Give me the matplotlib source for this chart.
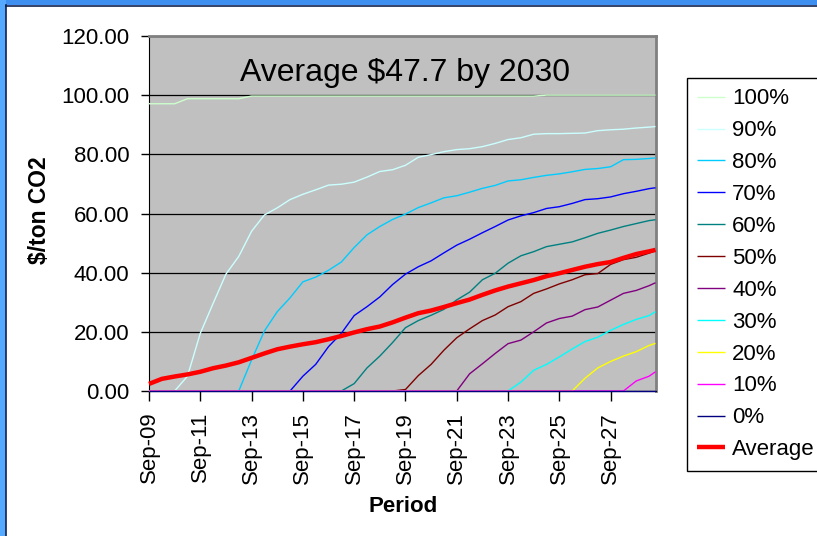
import matplotlib
matplotlib.use("Agg")
import matplotlib.pyplot as plt
from matplotlib.patches import Rectangle
from matplotlib.lines import Line2D

plt.rcParams['font.family'] = ['Liberation Sans', 'DejaVu Sans']

# quarterly periods (0 = Sep-09), sampled every half year, last = Jun-29
periods = list(range(0, 80, 2)) + [79]
tick_pos = list(range(0, 80, 8))
tick_labels = ['Sep-09', 'Sep-11', 'Sep-13', 'Sep-15', 'Sep-17',
               'Sep-19', 'Sep-21', 'Sep-23', 'Sep-25', 'Sep-27']

p100 = [97.1, 97.1, 97.1, 98.8, 98.8, 98.8, 98.8, 98.8] + [99.7] * 23 + [100.0] * 10
p90 = [0, 0, 0, 5.0, 19.5, 29.6, 39.5, 45.5,
       54.0, 59.5, 61.9, 64.7, 66.5, 68.0, 69.6, 69.9,
       70.6, 72.3, 74.2, 74.8, 76.3, 79.0, 79.9, 80.9,
       81.6, 81.9, 82.6, 83.7, 85.0, 85.6, 86.8, 87.0,
       87.0, 87.1, 87.2, 88.0, 88.3, 88.5, 88.9, 89.2, 89.4]
p80 = [0] * 8 + [10.5, 20.3, 26.8, 31.5, 36.9, 38.5, 40.8, 43.6,
                 48.5, 52.8, 55.6, 58.0, 59.8, 62.0, 63.6, 65.3,
                 66.0, 67.2, 68.5, 69.5, 71.0, 71.4, 72.2, 72.9,
                 73.4, 74.1, 74.9, 75.2, 75.8, 78.2, 78.3, 78.6, 78.8]
p70 = [0] * 12 + [5.0, 9.0, 15.0, 19.5,
                  25.5, 28.5, 31.8, 36.0, 39.5, 42.0, 44.0, 46.7,
                  49.3, 51.3, 53.5, 55.6, 57.8, 59.2, 60.3, 61.7,
                  62.3, 63.4, 64.7, 65.0, 65.6, 66.7, 67.5, 68.4, 68.7]
p60 = [0] * 16 + [2.5, 7.8, 11.8, 16.4, 21.4, 23.8, 25.6, 27.6,
                  30.8, 33.4, 37.6, 39.8, 43.2, 45.7, 47.1, 48.8,
                  49.6, 50.4, 51.8, 53.3, 54.4, 55.6, 56.6, 57.6, 57.9]
p50 = [0] * 20 + [0.5, 5.2, 9.0, 13.8,
                  18.0, 21.0, 23.8, 25.7, 28.5, 30.2, 33.0, 34.5,
                  36.2, 37.6, 39.3, 39.7, 42.8, 44.4, 45.2, 46.6, 47.4]
p40 = [0] * 25 + [5.8, 9.2, 12.7, 16.0, 17.2, 20.0, 23.0,
                  24.5, 25.3, 27.5, 28.4, 30.7, 33.0, 34.0, 35.6, 36.6]
p30 = [0] * 29 + [3.0, 7.0, 9.0,
                  11.5, 14.2, 16.7, 18.2, 20.5, 22.5, 24.2, 25.5, 26.8]
p20 = [0] * 34 + [4.3, 7.8, 10.0, 11.8, 13.3, 15.4, 16.1]
p10 = [0] * 38 + [3.4, 5.0, 6.5]
p0 = [0] * 41
average = [2.4, 4.1, 4.9, 5.6, 6.5, 7.7, 8.6, 9.7,
           11.2, 12.7, 14.1, 15.0, 15.8, 16.5, 17.5, 18.6,
           19.8, 20.9, 21.8, 23.2, 24.8, 26.3, 27.2, 28.4,
           29.7, 30.9, 32.5, 34.0, 35.3, 36.4, 37.5, 38.8,
           39.8, 40.9, 42.0, 42.9, 43.6, 45.0, 46.3, 47.2, 47.7]

series = [('100%', p100, '#ccffcc'), ('90%', p90, '#ccffff'), ('80%', p80, '#00ccff'),
          ('70%', p70, '#0000ff'), ('60%', p60, '#008080'), ('50%', p50, '#800000'),
          ('40%', p40, '#800080'), ('30%', p30, '#00ffff'), ('20%', p20, '#ffff00'),
          ('10%', p10, '#ff00ff'), ('0%', p0, '#000080')]

fig = plt.figure(figsize=(8.17, 5.36), dpi=100)
fig.patch.set_facecolor('white')

# blue slide frame (top and left)
fig.patches.append(Rectangle((0, 1 - 5 / 536), 1, 5 / 536, transform=fig.transFigure,
                             facecolor='#3f8ff0', edgecolor='none'))
fig.patches.append(Rectangle((0, 0), 6 / 817, 1, transform=fig.transFigure,
                             facecolor='#55aaff', edgecolor='none'))
fig.lines.append(Line2D([6 / 817, 1], [1 - 5.5 / 536, 1 - 5.5 / 536], transform=fig.transFigure,
                        color='#102050', lw=1.2))
fig.lines.append(Line2D([5.5 / 817, 5.5 / 817], [0, 1 - 5 / 536], transform=fig.transFigure,
                        color='#102050', lw=1.2))

ax = fig.add_axes([149 / 817, 1 - 391 / 536, 506.5 / 817, 355 / 536])
ax.set_facecolor('#c0c0c0')

handles = []
for name, vals, col in series:
    h, = ax.plot(periods, vals, color=col, lw=1.0, label=name, clip_on=False,
                 solid_capstyle='butt', zorder=3)
    handles.append(h)
h, = ax.plot(periods, average, color='#ff0000', lw=3.2, label='Average', clip_on=False,
             solid_capstyle='butt', zorder=4)
handles.append(h)

ax.set_xlim(0, 79)
ax.set_ylim(0, 120)
ax.set_yticks(range(0, 121, 20))
ax.set_yticklabels(['%.2f' % v for v in range(0, 121, 20)], fontsize=16)
ax.set_xticks(tick_pos)
ax.set_xticklabels(tick_labels, rotation=90, fontsize=16)
ax.tick_params(axis='y', length=6, width=1, pad=8, color='black')
ax.tick_params(axis='x', length=7, width=1, pad=8, color='black')
ax.yaxis.grid(True, color='black', lw=0.9)
ax.set_axisbelow(True)

for s in ['top', 'right']:
    ax.spines[s].set_color('#808080')
    ax.spines[s].set_linewidth(2)
ax.spines['left'].set_color('black')
ax.spines['bottom'].set_color('black')

ax.text(0.506, 0.895, 'Average $47.7 by 2030', transform=ax.transAxes,
        ha='center', va='center', fontsize=23)

fig.text(403 / 817, 1 - 506 / 536, 'Period', ha='center', va='center',
         fontsize=16, fontweight='bold')
fig.text(40 / 817, 1 - 210 / 536, '$/ton CO2', ha='center', va='center',
         rotation=90, fontsize=16.5, fontweight='bold')

leg = fig.legend(handles=handles, loc='upper left', bbox_to_anchor=(687 / 817, 1 - 78 / 536),
                 bbox_transform=fig.transFigure, borderaxespad=0, fontsize=16,
                 frameon=True, fancybox=False, edgecolor='black', framealpha=1,
                 handlelength=1.25, handletextpad=0.32, labelspacing=0.49,
                 borderpad=0.47)
leg.get_frame().set_linewidth(1.0)

fig.savefig('out.png', dpi=100, facecolor='white')
